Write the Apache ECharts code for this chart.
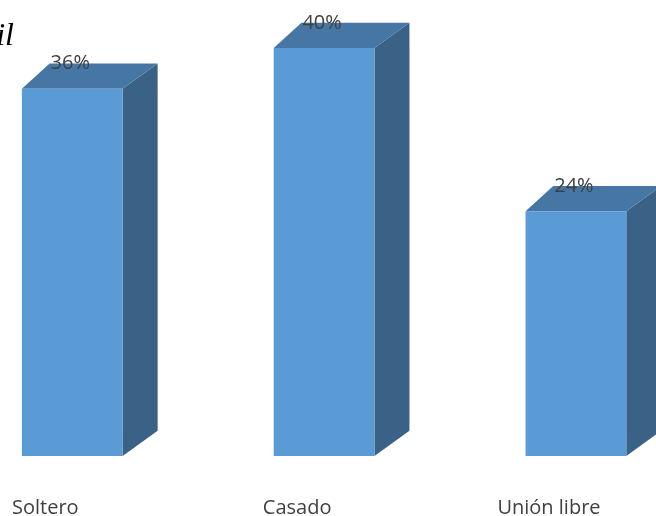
<!DOCTYPE html>
<html>
<head>
<meta charset="utf-8">
<script src="https://cdn.jsdelivr.net/npm/echarts@6/dist/echarts.min.js"></script>
<style>html,body{margin:0;padding:0;background:#fff;}#c{width:656px;height:516px;}</style>
</head>
<body>
<div id="c"></div>
<script>
const titleText = 'Estado civil';
const categories = ['Soltero', 'Casado', 'Unión libre'];
const values = [36, 40, 24];
const valueLabels = ['36%', '40%', '24%'];

const chart = echarts.init(document.getElementById('c'), null, {renderer: 'canvas'});
const FRONT = '#5B9BD5', TOP = '#4676A4', SIDE = '#3A6287';
const FONT = '"Open Sans", sans-serif';

chart.setOption({
  animation: false,
  backgroundColor: '#ffffff',
  graphic: [{
    type: 'text', x: 14, y: 21,
    style: {text: titleText, align: 'right', verticalAlign: 'top',
      font: 'italic 32px "Liberation Serif", "DejaVu Serif", serif', fill: '#000'}
  }],
  grid: {left: 0, right: 0, top: 48, bottom: 60, containLabel: false},
  xAxis: {type: 'value', min: -0.18, max: 2.425, show: false},
  yAxis: {type: 'value', min: 0, max: 40, show: false},
  series: [{
    type: 'custom',
    clip: false,
    data: values.map((v, i) => [i, v]),
    renderItem: function (params, api) {
      const idx = api.value(0), val = api.value(1);
      const t = api.coord([idx, val]);
      const b = api.coord([idx, 0]);
      const band = api.size([1, 0])[0];
      const cx = t[0] + band * 0.107;
      const w = band * 0.4;
      const x0 = cx - w / 2, x1 = cx + w / 2;
      const dxL = band * 0.11, dxR = band * 0.139, dy = band * 0.1;
      const ty = t[1], by = b[1];
      return {
        type: 'group',
        children: [
          {type: 'polygon', shape: {points: [[x1, ty], [x1 + dxR, ty - dy], [x1 + dxR, by - dy], [x1, by]]}, style: {fill: SIDE}},
          {type: 'polygon', shape: {points: [[x0, ty], [x1, ty], [x1 + dxR, ty - dy], [x0 + dxL, ty - dy]]}, style: {fill: TOP}},
          {type: 'rect', shape: {x: x0, y: ty, width: w, height: by - ty}, style: {fill: FRONT}},
          {type: 'text', x: cx - 2, y: ty - dy, style: {text: valueLabels[params.dataIndex], align: 'center', verticalAlign: 'middle',
            font: '20px ' + FONT, fill: '#404040'}},
          {type: 'text', x: b[0], y: by + 52, style: {text: categories[params.dataIndex], align: 'center', verticalAlign: 'middle',
            font: '20px ' + FONT, fill: '#404040'}}
        ]
      };
    }
  }]
});
</script>
</body>
</html>
